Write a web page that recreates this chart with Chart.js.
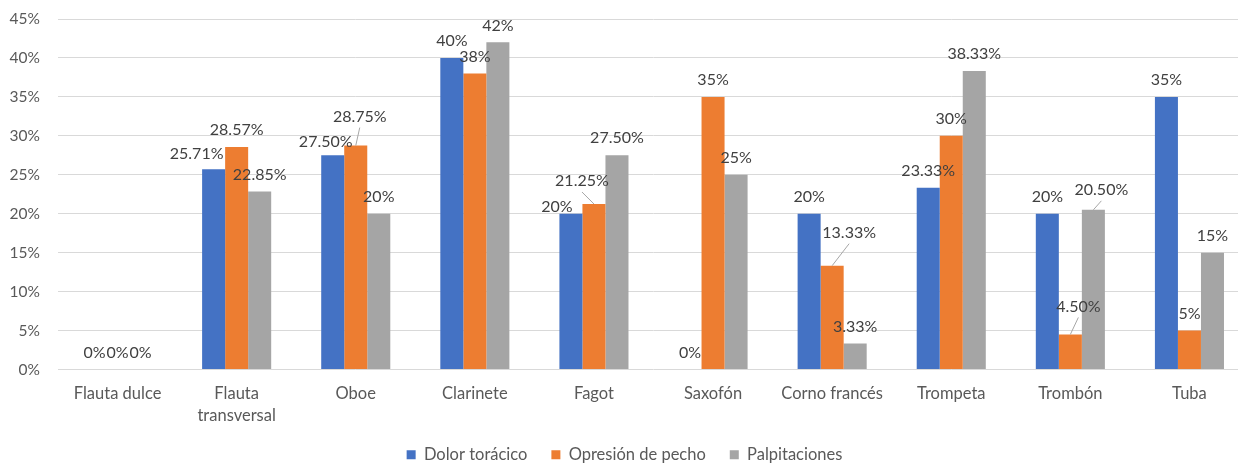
<!DOCTYPE html>
<html>
<head>
<meta charset="utf-8">
<script src="https://cdn.jsdelivr.net/npm/chart.js@4"></script>
<style>
    body { margin: 0; background: #ffffff; overflow: hidden; }
    #caja { width: 1250px; height: 473px; }
</style>
</head>
<body>
<div id="caja"><canvas id="grafico1" width="1250" height="473"></canvas></div>
<script>
// Categorías (instrumentos)
const instrumentos = [
    'Flauta dulce',
    ['Flauta', 'transversal'],
    'Oboe',
    'Clarinete',
    'Fagot',
    'Saxofón',
    'Corno francés',
    'Trompeta',
    'Trombón',
    'Tuba'
];

// Valores en % de cada síntoma
const dolorToracico = [0, 25.71, 27.50, 40, 20, 0, 20, 23.33, 20, 35];
const opresionPecho = [0, 28.57, 28.75, 38, 21.25, 35, 13.33, 30, 4.50, 5];
const palpitaciones = [0, 22.85, 20, 42, 27.50, 25, 3.33, 38.33, 20.50, 15];

// Ticks del eje Y
const ticksY = [0, 5, 10, 15, 20, 25, 30, 35, 40, 45];

// Etiquetas que en el original están movidas a mano: 'serie,indice': [dx, dy, linea guía]
const ajusteEtiquetas = {
    '0,1': [-17, 2, false],
    '0,2': [-7, 4, false],
    '1,2': [4, -12, true],
    '0,4': [-14, 10, false],
    '1,4': [-12, -6, true],
    '1,6': [17, -16, true],
    '1,8': [8, -11, true],
    '2,8': [8, -3, true]
};

const fuente = 'Lato, "Open Sans", sans-serif';

function formatoPct(v) {
    return Number.isInteger(v) ? v + '%' : v.toFixed(2) + '%';
}

// plugin simple para escribir el valor encima de cada barra
const etiquetasBarras = {
    id: 'etiquetasBarras',
    afterDatasetsDraw(chart) {
        const ctx = chart.ctx;
        ctx.save();
        ctx.font = '16px ' + fuente;
        ctx.fillStyle = '#404040';
        ctx.textAlign = 'center';
        ctx.textBaseline = 'middle';
        chart.data.datasets.forEach((ds, s) => {
            const meta = chart.getDatasetMeta(s);
            meta.data.forEach((barra, i) => {
                const aj = ajusteEtiquetas[s + ',' + i] || [0, 0, false];
                const x = barra.x + aj[0];
                const y = barra.y - 17 + aj[1];
                if (aj[2]) {
                    ctx.strokeStyle = '#a6a6a6';
                    ctx.lineWidth = 1;
                    ctx.beginPath();
                    ctx.moveTo(x, y + 11);
                    ctx.lineTo(barra.x, barra.y);
                    ctx.stroke();
                }
                ctx.fillText(formatoPct(ds.data[i]), x, y);
            });
        });
        ctx.restore();
    }
};

const dados1 = {
    labels: instrumentos,
    datasets: [{
        label: 'Dolor torácico',
        backgroundColor: '#4472C4',
        data: dolorToracico
    }, {
        label: 'Opresión de pecho',
        backgroundColor: '#ED7D31',
        data: opresionPecho
    }, {
        label: 'Palpitaciones',
        backgroundColor: '#A5A5A5',
        data: palpitaciones
    }]
};

const config1 = {
    type: 'bar',
    data: dados1,
    plugins: [etiquetasBarras],
    options: {
        responsive: false,
        animation: false,
        devicePixelRatio: 1,
        datasets: {
            bar: {
                categoryPercentage: 0.58,
                barPercentage: 1
            }
        },
        layout: {
            padding: { top: 19, right: 1, left: 0, bottom: 0 }
        },
        scales: {
            x: {
                grid: { display: false },
                border: { display: false },
                afterFit(scale) {
                    scale.height = 53;
                },
                ticks: {
                    color: '#595959',
                    font: { family: fuente, size: 16.5, lineHeight: 1.33 },
                    padding: 5,
                    maxRotation: 0,
                    autoSkip: false
                }
            },
            y: {
                min: 0,
                max: 45,
                afterBuildTicks(scale) {
                    scale.ticks = ticksY.map(v => ({ value: v }));
                },
                afterFit(scale) {
                    scale.width = 58;
                    scale.paddingTop = 0;
                    scale.paddingBottom = 0;
                },
                grid: { color: '#d9d9d9', lineWidth: 1, drawTicks: false },
                border: { display: false },
                ticks: {
                    color: '#595959',
                    font: { family: fuente, size: 15.5 },
                    padding: 18,
                    callback: v => v + '%'
                }
            }
        },
        plugins: {
            legend: {
                position: 'bottom',
                labels: {
                    color: '#595959',
                    font: { family: fuente, size: 16.5 },
                    boxWidth: 9,
                    boxHeight: 9,
                    padding: 24
                }
            },
            tooltip: { enabled: false }
        }
    }
};

const grafico1 = new Chart(document.getElementById('grafico1'), config1);
</script>
</body>
</html>
